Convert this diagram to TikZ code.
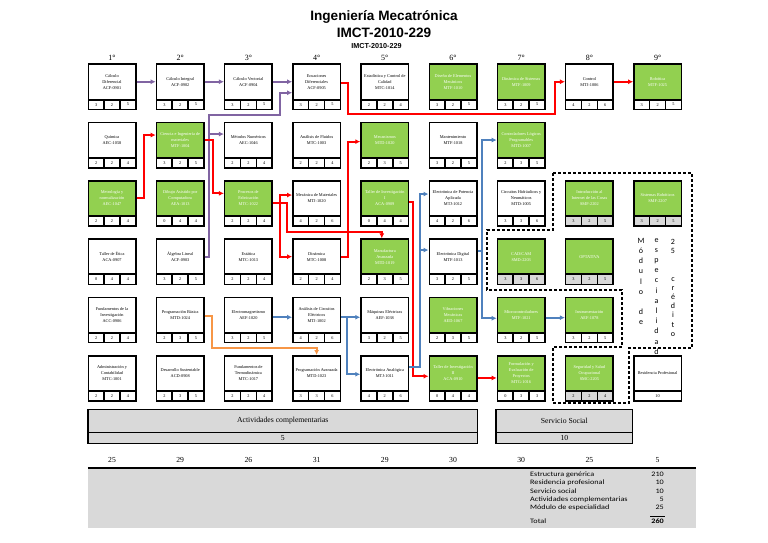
\documentclass[tikz,border=0pt]{standalone}
\usepackage{fontspec}
\setmainfont{Liberation Serif}
\newfontfamily\titlefont{Liberation Sans}
\newfontfamily\calfont{Carlito}
\newfontfamily\sumfont[FakeStretch=1.2]{Carlito}
\usetikzlibrary{arrows.meta}
\definecolor{mgreen}{RGB}{146,208,80}
\definecolor{mgrey}{RGB}{217,217,217}
\definecolor{mpurple}{RGB}{128,100,162}
\definecolor{mred}{RGB}{255,0,0}
\definecolor{mblue}{RGB}{79,129,189}
\definecolor{morange}{RGB}{247,150,70}
\newcommand{\crs}[9]{%
 \pgfmathsetmacro\bx{87.5+68.2*(#2-1)}%
 \pgfmathsetmacro\by{63.5+58.3*(#3-1)}%
 \fill[black] (\bx,\by) rectangle ++(49,46.7);
 \node[#4] (#1) at (\bx+24.5,\by+18.25) {#6};
 \node[#5] (#1a) at (\bx+8.63,\by+41.1) {#7};
 \node[#5] (#1b) at (\bx+24.5,\by+41.1) {#8};
 \node[#5] (#1c) at (\bx+40.37,\by+41.1) {#9};
}
\tikzset{
 ta/.style={minimum width=46pt, minimum height=33.5pt, inner sep=0pt, outer sep=1.5pt, align=center,
   font=\fontsize{4.3}{6}\selectfont, text=black, fill=white},
 tg/.style={ta, fill=mgreen, text=white},
 cw/.style={minimum width=14.27pt, minimum height=8.2pt, inner sep=0pt, fill=white, text=black,
   font=\fontsize{4.3}{5}\selectfont},
 cg/.style={cw, fill=mgrey},
 conn/.style={line width=1.9pt, -{Latex[length=5pt,width=5pt]}},
 sem/.style={inner sep=0pt, font=\fontsize{8}{9.6}\selectfont},
 grp/.style={draw=black, fill=mgrey, line width=1.2pt, inner sep=0pt, font=\fontsize{7.7}{9}\selectfont},
 vtxt/.style={inner sep=0pt, anchor=north, align=center, font=\calfont\fontsize{8}{10.2}\selectfont},
 sumt/.style={inner sep=0pt, anchor=west, font=\sumfont\fontsize{6.8}{7}\selectfont},
 sumv/.style={inner sep=0pt, anchor=east, font=\sumfont\fontsize{6.8}{7}\selectfont},
}
\begin{document}
\begin{tikzpicture}[x=1pt,y=-1pt]
\useasboundingbox (0,0) rectangle (768,543);
% titles
\node[inner sep=0pt, font=\titlefont\bfseries\fontsize{13.6}{15}\selectfont] (title1) at (384,17) {Ingeniería Mecatrónica};
\node[inner sep=0pt, font=\titlefont\bfseries\fontsize{13.6}{15}\selectfont] (title2) at (384,33) {IMCT-2010-229};
\node[inner sep=0pt, font=\titlefont\bfseries\fontsize{7.2}{8}\selectfont] (title3) at (376.5,46.5) {IMCT-2010-229};
% semester labels
\foreach \i in {1,...,9} {
 \node[sem] (sem\i) at ({112+68.2*(\i-1)},57.5) {\i°};
}
% row 1
\crs{r1c1}{1}{1}{ta}{cw}{Cálculo\\Diferencial\\ACF-0901}{3}{2}{5}
\crs{r1c2}{2}{1}{ta}{cw}{Cálculo Integral\\ACF-0902}{3}{2}{5}
\crs{r1c3}{3}{1}{ta}{cw}{Cálculo Vectorial\\ACF-0904}{3}{2}{5}
\crs{r1c4}{4}{1}{ta}{cw}{Ecuaciones\\Diferenciales\\ACF-0905}{3}{2}{5}
\crs{r1c5}{5}{1}{ta}{cw}{Estadística y Control de\\Calidad\\MTC-1014}{2}{2}{4}
\crs{r1c6}{6}{1}{tg}{cw}{Diseño de Elementos\\Mecánicos\\MTF-1010}{3}{2}{5}
\crs{r1c7}{7}{1}{tg}{cw}{Dinámica de Sistemas\\MTF-1009}{3}{2}{5}
\crs{r1c8}{8}{1}{ta}{cw}{Control\\MTJ-1006}{4}{2}{6}
\crs{r1c9}{9}{1}{tg}{cw}{Robótica\\MTF-1025}{3}{2}{5}
% row 2
\crs{r2c1}{1}{2}{ta}{cw}{Química\\AEC-1058}{2}{2}{4}
\crs{r2c2}{2}{2}{tg}{cw}{Ciencia e Ingeniería de\\materiales\\MTF-1004}{3}{2}{5}
\crs{r2c3}{3}{2}{ta}{cw}{Métodos Numéricos\\AEC-1046}{2}{2}{4}
\crs{r2c4}{4}{2}{ta}{cw}{Análisis de Fluidos\\MTC-1003}{2}{2}{4}
\crs{r2c5}{5}{2}{tg}{cw}{Mecanismos\\MTD-1020}{2}{3}{5}
\crs{r2c6}{6}{2}{ta}{cw}{Mantenimiento\\MTF-1018}{3}{2}{5}
\crs{r2c7}{7}{2}{tg}{cw}{Controladores Lógicos\\Programables\\MTD-1007}{2}{3}{5}
% row 3
\crs{r3c1}{1}{3}{tg}{cw}{Metrología y\\normalización\\AEC-1047}{2}{2}{4}
\crs{r3c2}{2}{3}{tg}{cw}{Dibujo Asistido por\\Computadora\\AEA-1013}{0}{4}{4}
\crs{r3c3}{3}{3}{tg}{cw}{Procesos de\\Fabricación\\MTC-1022}{2}{2}{4}
\crs{r3c4}{4}{3}{ta}{cw}{Mecánica de Materiales\\MTJ-1020}{4}{2}{6}
\crs{r3c5}{5}{3}{tg}{cw}{Taller de Investigación\\I\\ACA-0909}{0}{4}{4}
\crs{r3c6}{6}{3}{ta}{cw}{Electrónica de Potencia\\Aplicada\\MTJ-1012}{4}{2}{6}
\crs{r3c7}{7}{3}{ta}{cw}{Circuitos Hidráulicos y\\Neumáticos\\MTD-1005}{3}{3}{6}
\crs{r3c8}{8}{3}{tg}{cg}{Introducción al\\Internet de las Cosas\\SMF-2202}{3}{2}{5}
\crs{r3c9}{9}{3}{tg}{cg}{Sistemas Robóticos\\SMF-2207}{3}{2}{5}
% row 4
\crs{r4c1}{1}{4}{ta}{cw}{Taller de Ética\\ACA-0907}{0}{4}{4}
\crs{r4c2}{2}{4}{ta}{cw}{Álgebra Lineal\\ACF-0903}{3}{2}{5}
\crs{r4c3}{3}{4}{ta}{cw}{Estática\\MTC-1013}{2}{2}{4}
\crs{r4c4}{4}{4}{ta}{cw}{Dinámica\\MTC-1008}{2}{2}{4}
\crs{r4c5}{5}{4}{tg}{cw}{Manufactura\\Avanzada\\MTD-1019}{2}{3}{5}
\crs{r4c6}{6}{4}{ta}{cw}{Electrónica Digital\\MTF-1013}{3}{2}{5}
\crs{r4c7}{7}{4}{tg}{cg}{CAD/CAM\\SMD-2203}{3}{3}{6}
\crs{r4c8}{8}{4}{tg}{cg}{OPTATIVA}{3}{2}{5}
% row 5
\crs{r5c1}{1}{5}{ta}{cw}{Fundamentos de la\\Investigación\\ACC-0906}{2}{2}{4}
\crs{r5c2}{2}{5}{ta}{cw}{Programación Básica\\MTD-1024}{2}{3}{5}
\crs{r5c3}{3}{5}{ta}{cw}{Electromagnetismo\\AEF-1020}{3}{2}{5}
\crs{r5c4}{4}{5}{ta}{cw}{Análisis de Circuitos\\Eléctricos\\MTJ-1002}{4}{2}{6}
\crs{r5c5}{5}{5}{ta}{cw}{Máquinas Eléctricas\\AEF-1038}{3}{2}{5}
\crs{r5c6}{6}{5}{tg}{cw}{Vibraciones\\Mecánicas\\AED-1067}{2}{3}{5}
\crs{r5c7}{7}{5}{tg}{cw}{Microcontroladores\\MTF-1021}{3}{2}{5}
\crs{r5c8}{8}{5}{tg}{cw}{Instrumentación\\AEF-1078}{3}{2}{5}
% row 6
\crs{r6c1}{1}{6}{ta}{cw}{Administración y\\Contabilidad\\MTC-1001}{2}{2}{4}
\crs{r6c2}{2}{6}{ta}{cw}{Desarrollo Sustentable\\ACD-0908}{2}{3}{5}
\crs{r6c3}{3}{6}{ta}{cw}{Fundamentos de\\Termodinámica\\MTC-1017}{2}{2}{4}
\crs{r6c4}{4}{6}{ta}{cw}{Programación Avanzada\\MTD-1023}{3}{3}{6}
\crs{r6c5}{5}{6}{ta}{cw}{Electrónica Analógica\\MTJ-1011}{4}{2}{6}
\crs{r6c6}{6}{6}{tg}{cw}{Taller de Investigación\\II\\ACA-0910}{0}{4}{4}
\crs{r6c7}{7}{6}{tg}{cw}{Formulación y\\Evaluación de\\Proyectos\\MTG-1016}{0}{3}{3}
\crs{r6c8}{8}{6}{tg}{cg}{Seguridad y Salud\\Ocupacional\\SMC-2205}{2}{2}{4}
% residencia
\fill[black] (633.1,355) rectangle ++(49,46.7);
\node[ta] (r6c9) at (657.6,373.25) {Residencia Profesional};
\node[cw, minimum width=46pt] (r6c9a) at (657.6,396.1) {10};
% module outline
\draw[line width=1.1pt, dash pattern=on 3pt off 2pt] (553,173) -- (692,173) -- (692,348) -- (629,348) -- (629,403) -- (553,403) -- (553,347) -- (622,347) -- (622,290) -- (487,290) -- (487,230) -- (553,230) -- cycle;
\node[vtxt] (mod1) at (641,238) {M\\ó\\d\\u\\l\\o\\~\\d\\e};
\node[vtxt] (mod2) at (656.5,238) {e\\s\\p\\e\\c\\i\\a\\l\\i\\d\\a\\d};
\node[vtxt, font=\calfont\fontsize{8}{9.2}\selectfont] (mod3) at (673,239) {2\\5\\~\\~\\c\\r\\é\\d\\i\\t\\o};
% connectors purple
\draw[conn, mpurple] (r1c1.east) -- (r1c2.west);
\draw[conn, mpurple] (r1c2.east) -- (r1c3.west);
\draw[conn, mpurple] (r1c3.east) -- (r1c4.west);
\draw[conn, mpurple] (r4c2.east) -- ++(4.6,0) |- (280,115) |- ([yshift=-11pt]r1c4.west);
\draw[conn, mpurple] (r4c2.east) -- ++(4.6,0) |- ([yshift=6pt]r2c3.west);
% red
\draw[conn, mred] (r3c1.east) -- ++(7.5,0) |- ([yshift=5pt]r2c2.west);
\draw[conn, mred] (r2c2.east) -- ++(8.6,0) |- ([yshift=5pt]r3c3.west);
\draw[conn, mred] ([yshift=-5pt]r3c3.east) -- ++(7.1,0) |- ([yshift=3.3pt]r3c4.west);
\draw[conn, mred] ([yshift=-5pt]r3c3.east) -- ++(7.1,0) |- (r4c4.west);
\draw[conn, mred] ([yshift=-5pt]r3c3.east) -- ++(13.8,0) -- ++(0,28.4) -| ([xshift=-3pt]r4c5.north);
\draw[conn, mred] (r4c4.east) -- ++(7.2,0) |- ([yshift=-1.6pt]r2c5.west);
\draw[conn, mred] ([yshift=-1.5pt]r1c4.east) -- ++(7.2,0) |- (555,114) |- (r1c8.west);
\draw[conn, mred] (r1c8.east) -- (r1c9.west);
\draw[conn, mred] ([yshift=-3.3pt]r3c5.east) -- ++(4,0) |- ([yshift=-3pt]r6c6.west);
\draw[conn, mred] ([yshift=-4.7pt]r6c6.east) -- ([yshift=-4.7pt]r6c7.west);
% blue
\draw[conn, mblue] ([yshift=-2.3pt]r5c3.east) -- ([yshift=-2.3pt]r5c4.west);
\draw[conn, mblue] ([yshift=-2.3pt]r5c4.east) -- ([yshift=-2.3pt]r5c5.west);
\draw[conn, mblue] ([yshift=-2.3pt]r5c4.east) -- ++(5.6,0) |- ([yshift=-1pt]r6c5.west);
\draw[conn, mblue] ([yshift=6.5pt]r6c5.east) -- ++(10.7,0) |- ([yshift=4.3pt]r3c6.west);
\draw[conn, mblue] ([yshift=6.5pt]r6c5.east) -- ++(10.7,0) |- ([yshift=6.6pt]r4c6.west);
\draw[conn, mblue] ([yshift=5.6pt]r4c6.east) -- ++(4.2,0) |- (r2c7.west);
\draw[conn, mblue] ([yshift=5.6pt]r4c6.east) -- ++(4.2,0) |- ([yshift=-3.3pt]r5c7.west);
\draw[conn, mblue] ([yshift=-2.7pt]r5c7.east) -- ([yshift=-2.7pt]r5c8.west);
% orange
\draw[conn, morange] ([yshift=-0.75pt]r5c2.east) -- ++(7,0) -- ++(0,32) -| (r6c4.north);
% group boxes
\node[grp, minimum width=389.5pt, minimum height=23pt] (act) at (282.75,420.8) {Actividades complementarias};
\node[grp, minimum width=389.5pt, minimum height=11pt] (actv) at (282.75,437.8) {5};
\node[grp, minimum width=136.7pt, minimum height=23pt] (ss) at (564.35,420.8) {Servicio Social};
\node[grp, minimum width=136.7pt, minimum height=11pt] (ssv) at (564.35,437.8) {10};
% semester totals
\foreach \v [count=\i] in {25,29,26,31,29,30,30,25,5} {
 \node[sem, font=\fontsize{7.7}{9}\selectfont] (tot\i) at ({112+68.2*(\i-1)},460) {\v};
}
% bottom band
\node[fill=mgrey, minimum width=608pt, minimum height=60pt, inner sep=0pt] (band) at (392,498) {};
\draw[line width=1.8pt] (band.north west) -- (band.north east);
\node[sumt] (s1) at (530,474.5) {Estructura genérica};
\node[sumt] (s2) at (530,482.8) {Residencia profesional};
\node[sumt] (s3) at (530,491.1) {Servicio social};
\node[sumt] (s4) at (530,499.4) {Actividades complementarias};
\node[sumt] (s5) at (530,507.7) {Módulo de especialidad};
\node[sumt] (s6) at (530,521.5) {Total};
\node[sumv] (v1) at (664,474.5) {210};
\node[sumv] (v2) at (664,482.8) {10};
\node[sumv] (v3) at (664,491.1) {10};
\node[sumv] (v4) at (664,499.4) {5};
\node[sumv] (v5) at (664,507.7) {25};
\node[sumv, font=\sumfont\bfseries\fontsize{6.8}{7}\selectfont] (v6) at (664,521.5) {260};
\draw[line width=0.8pt] (650,516.5) -- (665,516.5);
\end{tikzpicture}
\end{document}
